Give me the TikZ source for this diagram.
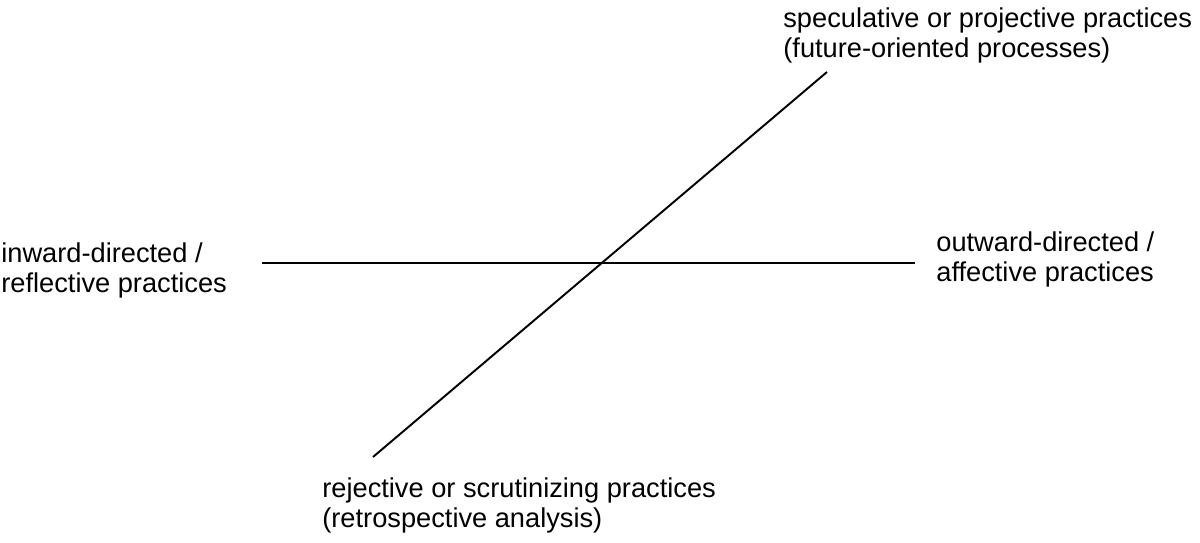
\documentclass[tikz,border=0pt]{standalone}
\usepackage{fontspec}
\setmainfont{Liberation Sans}
\begin{document}
\begin{tikzpicture}[x=0.02cm,y=0.02cm]
        \tikzstyle{axis}=[draw, line width=1.1pt]
        \tikzstyle{pole}=[align=left,anchor=north west,inner sep=0pt,font=\fontsize{15.5}{17.5}\selectfont]
        \useasboundingbox (0,0) rectangle (1200,543);
        % ends of the two axes
        \coordinate (w) at (262,280);
        \coordinate (e) at (915,280);
        \coordinate (s) at (373,86);
        \coordinate (n) at (827,471);
        \path[axis] (w) -- (e);
        \path[axis] (s) -- (n);
        % labels
        \node [pole] (future) at (783,536) {speculative or projective practices\\(future-oriented processes)};
        \node [pole] (inward) at (1,301) {inward-directed /\\reflective practices};
        \node [pole] (outward) at (936,312) {outward-directed /\\affective practices};
        \node [pole] (past) at (322,66) {rejective or scrutinizing practices\\(retrospective analysis)};
\end{tikzpicture}
\end{document}
